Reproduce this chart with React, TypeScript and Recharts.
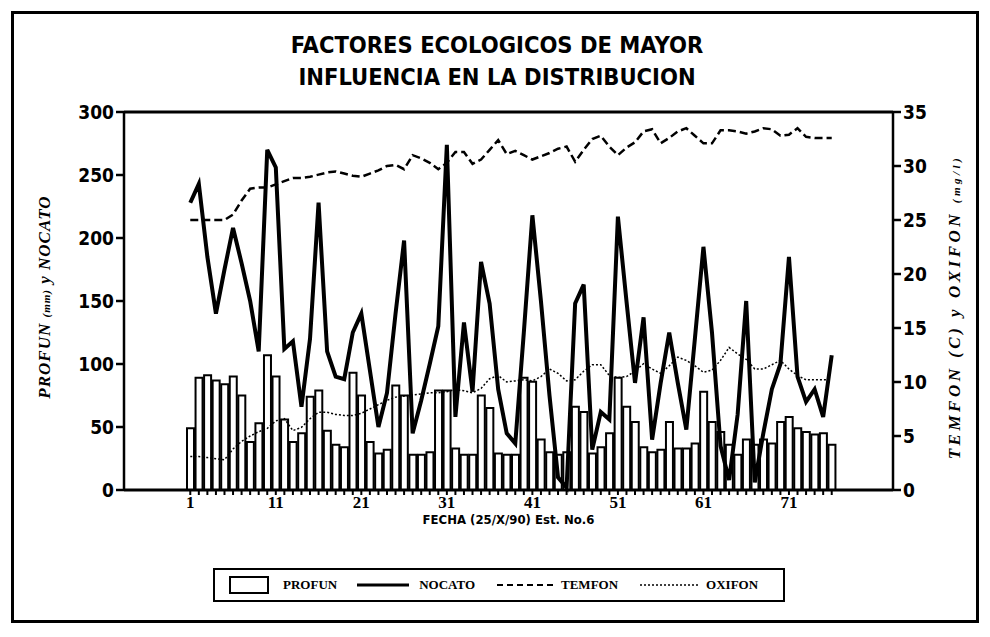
import { ComposedChart, Bar, Line, XAxis, YAxis, ReferenceLine } from 'recharts';

// Est. No.6, muestreo del 25/X/90
const fecha = Array.from({ length: 76 }, (_, i) => i + 1);

const profun = [
  49, 89, 91, 87, 84, 90, 75, 38, 53, 107, 90, 56, 38, 45, 74, 79, 47, 36, 34, 93,
  75, 38, 29, 32, 83, 75, 28, 28, 30, 79, 79, 33, 28, 28, 75, 65, 29, 28, 28, 89,
  86, 40, 30, 28, 30, 66, 62, 29, 34, 45, 89, 66, 54, 34, 30, 32, 54, 33, 33, 37,
  78, 54, 46, 36, 28, 40, 36, 40, 37, 54, 58, 49, 46, 44, 45, 36,
];

const nocato = [
  228, 243, 185, 140, 175, 208, 180, 150, 110, 270, 256, 112, 118, 66, 120, 228, 110, 90, 88, 125,
  140, 95, 50, 77, 140, 198, 45, 71, 100, 130, 274, 58, 133, 78, 181, 148, 80, 45, 37, 125,
  218, 150, 75, 10, 2, 148, 163, 32, 62, 56, 217, 150, 85, 137, 40, 85, 125, 85, 48, 120,
  193, 125, 35, 8, 60, 150, 6, 45, 80, 100, 185, 90, 70, 80, 58, 107,
];

const temfon = [
  25, 25, 25, 25, 25, 25.5, 26.8, 27.9, 28, 28, 28.3, 28.6, 28.9, 28.9, 29, 29.2, 29.4, 29.5, 29.3, 29.1,
  29, 29.3, 29.6, 30, 30.1, 29.7, 31, 30.7, 30.3, 29.7, 30.3, 31.3, 31.3, 30.2, 30.6, 31.5, 32.4, 31.1, 31.4, 31,
  30.6, 30.9, 31.2, 31.6, 31.8, 30.4, 31.5, 32.5, 32.8, 31.8, 31, 31.7, 32.2, 33.2, 33.4, 32.1, 32.6, 33.2, 33.5, 32.8,
  32.1, 32.1, 33.3, 33.3, 33.2, 33, 33.2, 33.5, 33.4, 32.8, 32.9, 33.5, 32.7, 32.6, 32.6, 32.6,
];

const oxifon = [
  3.1, 3.1, 3, 2.9, 2.8, 3.8, 4.5, 5, 5.4, 5.7, 6.4, 6.6, 5.5, 5.8, 6.6, 7.2, 7.2, 7, 6.9, 6.9,
  7.1, 7.5, 7.9, 8.3, 8.6, 8.7, 8.8, 8.9, 9, 9, 9.1, 9.3, 9.2, 9, 9.4, 10.3, 10.6, 10, 10.1, 10.2,
  10.1, 10.5, 11.2, 10.8, 10.1, 10.2, 11, 11.6, 11.6, 10.6, 10.4, 10.5, 11, 11.7, 11.2, 10.8, 11.5, 12.3, 12, 11.5,
  10.9, 11.1, 12, 13.2, 12.6, 12.1, 11.2, 11.2, 11.6, 12, 11.2, 10.6, 10.2, 10.2, 10.2, 10.2,
];

const leftTicks = [0, 50, 100, 150, 200, 250, 300];
const rightTicks = [0, 5, 10, 15, 20, 25, 30, 35];

const data = fecha.map((f, i) => ({
  fecha: f,
  profun: profun[i],
  nocato: nocato[i],
  temfon: temfon[i],
  oxifon: oxifon[i],
}));

const NARROW = '"Liberation Sans Narrow", "DejaVu Sans Condensed", "Liberation Sans", Arial, sans-serif';
const SERIF = '"Liberation Serif", "DejaVu Serif", serif';

const tickStyle = { fill: '#000', fontSize: 19, fontWeight: 700, fontFamily: NARROW };

function LegendBox() {
  const item = { display: 'flex', alignItems: 'center', fontFamily: SERIF, fontWeight: 700, fontSize: 13 };
  return (
    <div style={{
      position: 'absolute', left: 213, top: 568, width: 572, height: 34, boxSizing: 'border-box',
      border: '2px solid #000', display: 'flex', alignItems: 'center', paddingLeft: 14,
    }}>
      <div style={item}>
        <div style={{ width: 40, height: 18, border: '2px solid #000', boxSizing: 'border-box' }} />
        <span style={{ marginLeft: 14 }}>PROFUN</span>
      </div>
      <div style={{ ...item, marginLeft: 20 }}>
        <svg width={52} height={6}><line x1={0} y1={3} x2={52} y2={3} stroke="#000" strokeWidth={3} /></svg>
        <span style={{ marginLeft: 10 }}>NOCATO</span>
      </div>
      <div style={{ ...item, marginLeft: 22 }}>
        <svg width={56} height={6}><line x1={0} y1={3} x2={56} y2={3} stroke="#000" strokeWidth={2} strokeDasharray="6 4" /></svg>
        <span style={{ marginLeft: 8 }}>TEMFON</span>
      </div>
      <div style={{ ...item, marginLeft: 22 }}>
        <svg width={58} height={6}><line x1={0} y1={3} x2={58} y2={3} stroke="#000" strokeWidth={1.5} strokeDasharray="2 2" /></svg>
        <span style={{ marginLeft: 8 }}>OXIFON</span>
      </div>
    </div>
  );
}

export default function App() {
  return (
    <div style={{ position: 'absolute', left: 0, top: 0, width: 990, height: 637, background: '#fff', overflow: 'hidden' }}>
      {/* marco exterior */}
      <div style={{
        position: 'absolute', left: 11, top: 11, width: 968, height: 612,
        border: '3px solid #000', boxSizing: 'border-box',
      }} />
      <div style={{
        position: 'absolute', left: 0, width: 994, top: 29, textAlign: 'center',
        fontFamily: NARROW, fontWeight: 700, fontSize: 23.5, lineHeight: '32px', color: '#000',
      }}>
        FACTORES ECOLOGICOS DE MAYOR<br />INFLUENCIA EN LA DISTRIBUCION
      </div>

      <ComposedChart
        width={990}
        height={637}
        data={data}
        margin={{ top: 112, right: 37, bottom: 117, left: 64 }}
        style={{ position: 'absolute', left: 0, top: 0 }}
      >
        <XAxis
          dataKey="fecha"
          type="category"
          interval={0}
          padding={{ left: 62, right: 57 }}
          height={30}
          axisLine={{ stroke: '#000', strokeWidth: 3 }}
          tickLine={{ stroke: '#000', strokeWidth: 2 }}
          tickSize={5}
          tickMargin={1}
          tick={{ fill: '#000', fontSize: 17, fontWeight: 700, fontFamily: SERIF }}
          tickFormatter={(v: number) => ((v - 1) % 10 === 0 ? String(v) : '')}
        />
        <YAxis
          yAxisId="left"
          orientation="left"
          width={60}
          domain={[0, 300]}
          ticks={leftTicks}
          interval={0}
          axisLine={{ stroke: '#000', strokeWidth: 2.5 }}
          tickLine={{ stroke: '#000', strokeWidth: 2.5 }}
          tickSize={8}
          tick={tickStyle}
        />
        <YAxis
          yAxisId="right"
          orientation="right"
          width={60}
          domain={[0, 35]}
          ticks={rightTicks}
          interval={0}
          axisLine={{ stroke: '#000', strokeWidth: 2.5 }}
          tickLine={{ stroke: '#000', strokeWidth: 2.5 }}
          tickSize={8}
          tick={tickStyle}
        />
        <ReferenceLine yAxisId="left" y={300} stroke="#000" strokeWidth={3} />
        <Bar
          yAxisId="left"
          dataKey="profun"
          fill="#fff"
          stroke="#000"
          strokeWidth={2}
          barSize={7}
          isAnimationActive={false}
        />
        <Line
          yAxisId="right"
          type="linear"
          dataKey="oxifon"
          stroke="#000"
          strokeWidth={1.5}
          strokeDasharray="2 2"
          dot={false}
          isAnimationActive={false}
        />
        <Line
          yAxisId="right"
          type="linear"
          dataKey="temfon"
          stroke="#000"
          strokeWidth={2.5}
          strokeDasharray="8 4"
          dot={false}
          isAnimationActive={false}
        />
        <Line
          yAxisId="left"
          type="linear"
          dataKey="nocato"
          stroke="#000"
          strokeWidth={4}
          dot={false}
          isAnimationActive={false}
        />
      </ComposedChart>

      <div style={{
        position: 'absolute', left: 124, width: 769, top: 512, textAlign: 'center',
        fontFamily: NARROW, fontWeight: 700, fontSize: 13, lineHeight: '15px', color: '#000',
      }}>
        FECHA (25/X/90) Est. No.6
      </div>

      <div style={{
        position: 'absolute', left: 45, top: 297, transform: 'translate(-50%, -50%) rotate(-90deg)',
        whiteSpace: 'nowrap', fontFamily: SERIF, fontStyle: 'italic', fontWeight: 700, fontSize: 17,
        letterSpacing: 1, color: '#000',
      }}>
        PROFUN <span style={{ fontSize: 11 }}>(mm)</span> y NOCATO
      </div>
      <div style={{
        position: 'absolute', left: 955, top: 307, transform: 'translate(-50%, -50%) rotate(-90deg)',
        whiteSpace: 'nowrap', fontFamily: SERIF, fontStyle: 'italic', fontWeight: 700, fontSize: 17,
        letterSpacing: 3.5, color: '#000',
      }}>
        TEMFON (C) y OXIFON <span style={{ fontSize: 11 }}>(mg/l)</span>
      </div>

      <LegendBox />
    </div>
  );
}
